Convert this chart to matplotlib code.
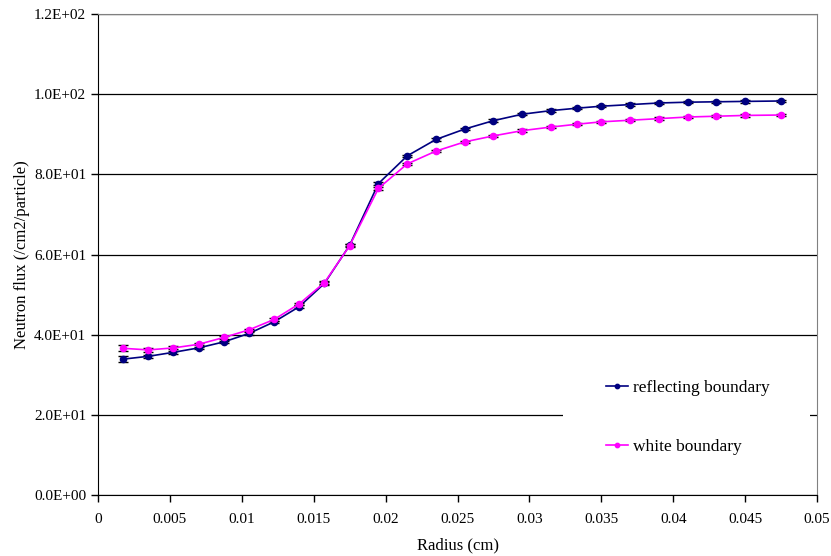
import numpy as np
import matplotlib.pyplot as plt
from matplotlib.patches import Rectangle
from matplotlib.ticker import FuncFormatter, MultipleLocator

# radius (cm)
radius = [0.00175, 0.0035, 0.00525, 0.007, 0.00875, 0.0105, 0.01225, 0.014, 0.01575, 0.0175,
          0.0195, 0.0215, 0.0235, 0.0255, 0.0275, 0.0295, 0.0315, 0.0333, 0.035, 0.037,
          0.039, 0.041, 0.043, 0.045, 0.0475]

# neutron flux (/cm2/particle)
reflecting = [33.9, 34.6, 35.6, 36.7, 38.2, 40.3, 43.2, 47.0, 52.8, 62.3,
              77.7, 84.6, 88.7, 91.3, 93.4, 95.0, 95.9, 96.5, 97.0, 97.4,
              97.8, 98.0, 98.1, 98.2, 98.3]
white = [36.6, 36.2, 36.7, 37.6, 39.3, 41.2, 43.8, 47.7, 53.0, 62.2,
         76.5, 82.6, 85.8, 88.1, 89.6, 90.9, 91.8, 92.5, 93.1, 93.5,
         93.9, 94.3, 94.5, 94.7, 94.8]
reflecting_err = [0.7, 0.4, 0.35, 0.3, 0.3, 0.3, 0.3, 0.3, 0.3, 0.3,
                  0.3, 0.3, 0.3, 0.3, 0.3, 0.3, 0.3, 0.3, 0.3, 0.3,
                  0.3, 0.3, 0.3, 0.3, 0.3]
white_err = [0.7, 0.4, 0.35, 0.3, 0.3, 0.3, 0.3, 0.3, 0.3, 0.3,
             0.3, 0.3, 0.3, 0.3, 0.3, 0.3, 0.3, 0.3, 0.3, 0.3,
             0.3, 0.3, 0.3, 0.3, 0.3]

plt.rcParams['font.family'] = 'Liberation Serif'

fig = plt.figure(figsize=(8.31, 5.56), dpi=100)
ax = fig.add_axes([0.1179, 0.1097, 0.8653, 0.8651])

ax.errorbar(radius, reflecting, yerr=reflecting_err, color='#000080', marker='o',
            markersize=4.5, linewidth=1.2, ecolor='black', elinewidth=1, capsize=3.5,
            label='reflecting boundary', zorder=3)
ax.errorbar(radius, white, yerr=white_err, color='#FF00FF', marker='o',
            markersize=4.5, linewidth=1.2, ecolor='black', elinewidth=1, capsize=3.5,
            label='white boundary', zorder=4)

ax.set_xlim(0, 0.05)
ax.set_ylim(0, 120)
ax.xaxis.set_major_locator(MultipleLocator(0.005))
ax.yaxis.set_major_locator(MultipleLocator(20))
ax.xaxis.set_major_formatter(FuncFormatter(lambda v, p: '%g' % round(v, 4)))
ax.yaxis.set_major_formatter(FuncFormatter(lambda v, p: '%.1E' % v))
ax.tick_params(direction='out', length=5, width=1, labelsize=11, colors='black')
ax.tick_params(axis='x', pad=8)

ax.yaxis.grid(True, color='black', linewidth=0.9)
ax.set_axisbelow(True)
for s in ['top', 'right']:
    ax.spines[s].set_color('#808080')
for s in ['left', 'bottom']:
    ax.spines[s].set_color('black')

ax.set_xlabel('Radius (cm)', fontsize=12, labelpad=8)
ax.set_ylabel('Neutron flux (/cm2/particle)', fontsize=12, labelpad=3)

# white legend area that hides part of the 20 gridline
ax.add_patch(Rectangle((0.647, 0.06), 0.343, 0.2, transform=ax.transAxes,
                       facecolor='white', edgecolor='none', zorder=1))

# strip error bars from legend handles
handles, labels = ax.get_legend_handles_labels()
handles = [h[0] for h in handles]
leg = ax.legend(handles, labels, loc='center left', bbox_to_anchor=(0.694, 0.161),
                frameon=False, fontsize=12.5, labelspacing=2.45, handlelength=1.3,
                handletextpad=0.3, borderpad=0, markerscale=0.7)

fig.savefig('out.png', dpi=100)
